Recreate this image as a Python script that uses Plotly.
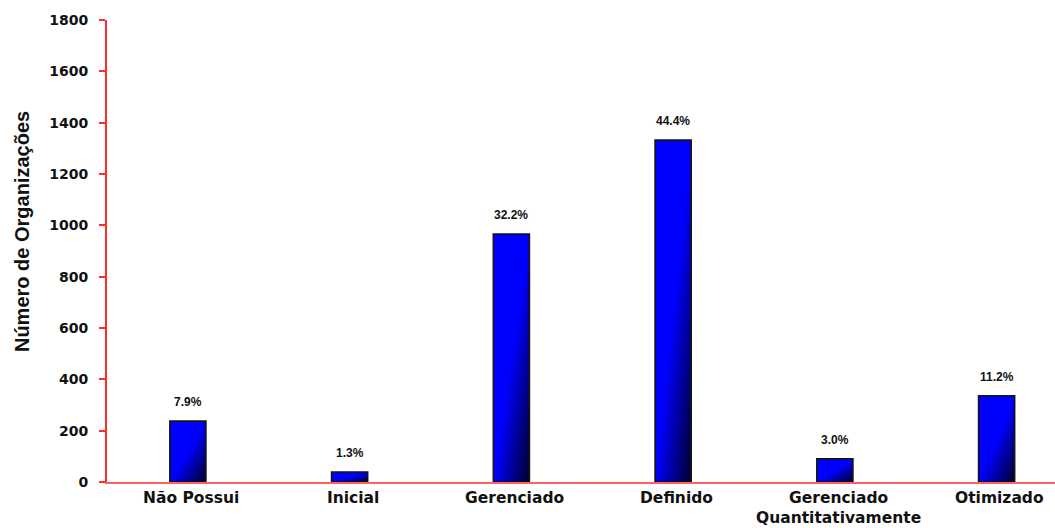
import plotly.graph_objects as go

# Number of organisations per maturity level
categories = ["Não Possui", "Inicial", "Gerenciado", "Definido",
              "Gerenciado<br>Quantitativamente", "Otimizado"]
counts = [237, 39, 966, 1332, 90, 336]
y_ticks = [0, 200, 400, 600, 800, 1000, 1200, 1400, 1600, 1800]

total = sum(counts)
pct_labels = [f"{c / total * 100:.1f}%" for c in counts]

BAR_W = 0.223
RED = "#ff2a2a"
X_RANGE = [-0.5, 5.361]


def clip(poly, a, b, c):
    """Keep the part of a polygon where a*s + b*h + c >= 0."""
    out = []
    n = len(poly)
    for i in range(n):
        p, q = poly[i], poly[(i + 1) % n]
        fp = a * p[0] + b * p[1] + c
        fq = a * q[0] + b * q[1] + c
        if fp >= 0:
            out.append(p)
        if (fp >= 0) != (fq >= 0):
            t = fp / (fp - fq)
            out.append((p[0] + t * (q[0] - p[0]), p[1] + t * (q[1] - p[1])))
    return out


def tail(t0):
    """Part of the unit bar box where the diagonal gradient parameter is >= t0."""
    sq = [(0, 0), (1, 0), (1, 1), (0, 1)]
    return clip(sq, 1, -1, 1 - 2 * t0)


def lerp(c0, c1, f):
    return tuple(round(a + (b - a) * f) for a, b in zip(c0, c1))


fig = go.Figure()

# Diagonal blue-to-navy gradient: overlapping layers, each darker one painted
# over the previous so no seams appear between colour steps
n_steps = 40
starts = [0.0] + [0.5 + 0.5 * k / n_steps for k in range(n_steps)]
blue = (0, 0, 255)
navy = (0, 0, 42)
for t0 in starts:
    f = 0.0 if t0 < 0.5 else (t0 - 0.5) / 0.5 + 0.5 / n_steps
    r, g, b = lerp(blue, navy, min(f, 1.0))
    col = f"rgb({r},{g},{b})"
    poly = tail(t0)
    if len(poly) < 3:
        continue
    xs, ys = [], []
    for i, v in enumerate(counts):
        x0 = i - BAR_W / 2
        for s, h in poly + [poly[0]]:
            xs.append(x0 + s * BAR_W)
            ys.append(h * v)
        xs.append(None)
        ys.append(None)
    fig.add_trace(go.Scatter(x=xs, y=ys, mode="lines", fill="toself",
                             fillcolor=col, line=dict(width=0),
                             hoverinfo="skip", showlegend=False))

# Bar outlines
ox, oy = [], []
for i, v in enumerate(counts):
    x0, x1 = i - BAR_W / 2, i + BAR_W / 2
    ox += [x0, x0, x1, x1, x0, None]
    oy += [0, v, v, 0, 0, None]
fig.add_trace(go.Scatter(x=ox, y=oy, mode="lines",
                         line=dict(color="#151515", width=1.6),
                         hoverinfo="skip", showlegend=False))

# Percentage labels above each bar
for i, (v, lab) in enumerate(zip(counts, pct_labels)):
    fig.add_annotation(x=i, y=v, text=lab, showarrow=False, yanchor="middle",
                       yshift=19,
                       font=dict(family="Liberation Sans, Arial", size=12,
                                 color="#111111", weight="bold"))

# Category labels under the axis (one annotation per text line)
cat_font = dict(family="DejaVu Sans", size=15.5, color="#111111", weight="bold")
for i, name in enumerate(categories):
    for k, line in enumerate(name.split("<br>")):
        fig.add_annotation(x=i + 0.02, y=0, text=line, showarrow=False,
                           xanchor="center", yanchor="middle", borderpad=0,
                           yshift=-(16 + 20 * k), font=cat_font)

# Y axis title
fig.add_annotation(xref="paper", yref="paper", x=0, y=0.541, xshift=-85,
                   text="Número de Organizações", textangle=-90,
                   showarrow=False, xanchor="center", yanchor="middle",
                   font=dict(family="Liberation Sans, Arial", size=20,
                             color="#111111", weight="bold"))

tick_font = dict(family="DejaVu Sans", size=14, color="#111111", weight="bold")
boundaries = [i + 0.5 for i in range(len(categories) - 1)]

fig.update_layout(
    width=1055, height=528,
    margin=dict(l=107, r=0, t=20, b=46),
    paper_bgcolor="white", plot_bgcolor="white",
    showlegend=False,
    xaxis=dict(range=X_RANGE, showticklabels=False,
               ticks="", showgrid=False, zeroline=False, automargin=False,
               showline=True, linecolor="#ff6262", linewidth=2,
               fixedrange=True),
    xaxis2=dict(range=X_RANGE, overlaying="x", anchor="y", side="bottom",
                tickmode="array", tickvals=boundaries, ticks="outside",
                ticklen=4, tickwidth=1.5, tickcolor=RED, automargin=False,
                showticklabels=False, showgrid=False, zeroline=False,
                showline=False, fixedrange=True),
    xaxis3=dict(range=X_RANGE, overlaying="x", anchor="y", side="bottom",
                tickmode="array", tickvals=boundaries, ticks="inside",
                ticklen=4, tickwidth=1.5, tickcolor=RED, automargin=False,
                showticklabels=False, showgrid=False, zeroline=False,
                showline=False, fixedrange=True),
    yaxis=dict(range=[0, 1800], tickmode="array", tickvals=y_ticks,
               ticks="outside", ticklen=6, tickwidth=1.5, tickcolor=RED,
               showgrid=False, zeroline=False, automargin=False,
               showline=True, linecolor=RED, linewidth=2,
               tickfont=tick_font, ticklabelstandoff=8, fixedrange=True),
    yaxis2=dict(range=[0, 1800], overlaying="y", anchor="x", side="left",
                tickmode="array", tickvals=y_ticks, ticks="inside",
                ticklen=6, tickwidth=1.5, tickcolor=RED, automargin=False,
                showticklabels=False, showgrid=False, zeroline=False,
                showline=False, fixedrange=True),
)

fig.write_html("out.html", config={"displayModeBar": False})
